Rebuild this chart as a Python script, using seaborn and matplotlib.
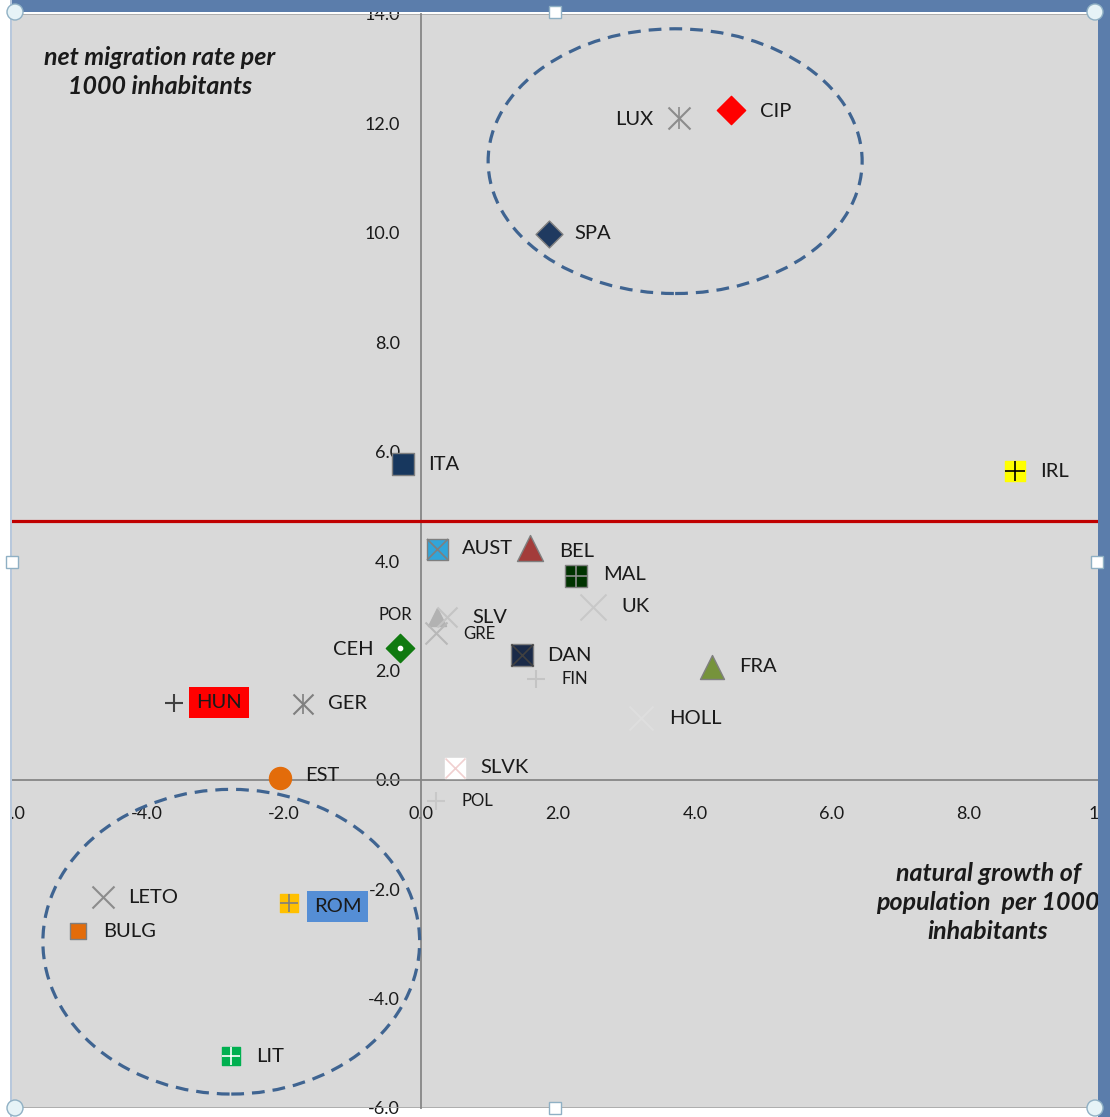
import numpy as np
import pandas as pd
import seaborn as sns
import matplotlib.pyplot as plt
from matplotlib.patches import Ellipse, Rectangle

# data
countries = ["CIP", "LUX", "SPA", "ITA", "IRL", "AUST", "BEL", "MAL", "UK", "POR",
             "SLV", "GRE", "CEH", "DAN", "FIN", "FRA", "HUN", "GER", "HOLL", "EST",
             "SLVK", "POL", "LETO", "BULG", "ROM", "LIT"]
natural_growth = [4.53, 3.77, 1.87, -0.26, 8.67, 0.23, 1.59, 2.26, 2.51, 0.23,
                  0.38, 0.22, -0.31, 1.47, 1.68, 4.25, -3.61, -1.72, 3.21, -2.06,
                  0.50, 0.22, -4.64, -5.01, -1.93, -2.77]
net_migration = [12.24, 12.10, 9.98, 5.77, 5.64, 4.22, 4.23, 3.72, 3.16, 2.97,
                 2.97, 2.68, 2.41, 2.28, 1.84, 2.06, 1.41, 1.39, 1.13, 0.04,
                 0.22, -0.38, -2.15, -2.77, -2.26, -5.05]
eu_migration_avg = 4.74
x_ticks = [-6, -4, -2, 0, 2, 4, 6, 8, 10]
y_ticks = [-6, -4, -2, 0, 2, 4, 6, 8, 10, 12, 14]

df = pd.DataFrame({"country": countries, "growth": natural_growth, "migration": net_migration})

# marker styles: marker, face, edge, size(px), overlay marker, overlay colour
styles = {
    "CIP": ("D", "#ff0000", "#ff0000", 20, None, None),
    "LUX": ("x", "#8c8c8c", "#8c8c8c", 22, "|", "#8c8c8c"),
    "SPA": ("D", "#1f3a60", "#7f7f7f", 19, None, None),
    "ITA": ("s", "#17375e", "#7f7f7f", 22, None, None),
    "IRL": ("s", "#ffff00", "#ffff00", 20, "+", "#000000"),
    "AUST": ("s", "#31a5d9", "#7f7f7f", 21, "x", "#7f7f7f"),
    "BEL": ("^", "#a33c3a", "#7f7f7f", 26, None, None),
    "MAL": ("s", "#003300", "#7f7f7f", 22, "+", "#8c8c8c"),
    "UK": ("x", "#c8c8c8", "#c8c8c8", 26, None, None),
    "POR": ("^", "#b2b2b2", "#b2b2b2", 18, None, None),
    "SLV": ("x", "#c4c4c4", "#c4c4c4", 20, None, None),
    "GRE": ("x", "#b8b8b8", "#b8b8b8", 22, None, None),
    "CEH": ("D", "#107a10", "#107a10", 20, ".", "#ffffff"),
    "DAN": ("s", "#1a2a48", "#7f7f7f", 22, "x", "#404040"),
    "FIN": ("+", "#c4c4c4", "#c4c4c4", 18, None, None),
    "FRA": ("^", "#76933c", "#7f7f7f", 24, None, None),
    "HUN": ("+", "#404040", "#404040", 18, None, None),
    "GER": ("x", "#7f7f7f", "#7f7f7f", 20, "|", "#7f7f7f"),
    "HOLL": ("x", "#dedede", "#dedede", 24, None, None),
    "EST": ("o", "#e36c0a", "#e36c0a", 22, None, None),
    "SLVK": ("s", "#ffffff", "#ffffff", 20, "x", "#f0d0d0"),
    "POL": ("+", "#c8c8c8", "#c8c8c8", 18, None, None),
    "LETO": ("x", "#8c8c8c", "#8c8c8c", 22, None, None),
    "BULG": ("s", "#e36c0a", "#7f7f7f", 16, None, None),
    "ROM": ("s", "#ffc000", "#ffc000", 18, "+", "#7f7f7f"),
    "LIT": ("s", "#00b050", "#00b050", 18, "+", "#ffffff"),
}
# label offsets in pixels (dx, dy, ha), default (25, 0, left)
label_offsets = {"CIP": (29, -1, "left"), "LUX": (-26, -2, "right"), "BEL": (29, -3, "left"),
                 "MAL": (27, 2, "left"), "UK": (28, 0, "left"), "POR": (-25, 2, "right"),
                 "GRE": (27, -1, "left"), "CEH": (-26, -2, "right"), "FRA": (27, 1, "left"),
                 "HOLL": (28, -1, "left"), "EST": (25, 2, "left"), "ROM": (25, -3, "left"),
                 "HUN": (22, 0, "left")}
small_labels = ["POR", "GRE", "FIN", "POL"]
label_boxes = {"HUN": "#ff0000", "ROM": "#558ed5"}

sns.set_style("white")
plt.rcParams["font.family"] = ["Lato", "DejaVu Sans"]

W, H = 1110, 1117
fig = plt.figure(figsize=(W / 100, H / 100), dpi=100)
fig.patch.set_facecolor("white")
ax = fig.add_axes([10 / W, 9 / H, 1096 / W, 1094 / H])
ax.set_facecolor("#d9d9d9")
ax.set_xlim(-6, 10)
ax.set_ylim(-6, 14)

for c in countries:
    row = df[df.country == c].iloc[0]
    m, face, edge, size, ov, ovc = styles[c]
    s = (size * 0.72) ** 2
    filled = m in ("D", "s", "^", "o")
    sns.scatterplot(x=[row.growth], y=[row.migration], marker=m, s=s, color=face,
                    edgecolor=edge, linewidth=1.0 if filled else 1.5, ax=ax,
                    zorder=4, legend=False)
    if ov is not None:
        osize = size * (0.4 if ov == "." else 1.0)
        sns.scatterplot(x=[row.growth], y=[row.migration], marker=ov, s=(osize * 0.72) ** 2,
                        color=ovc, edgecolor=ovc, linewidth=1.2, ax=ax, zorder=5, legend=False)
    dx, dy, ha = label_offsets.get(c, (25, 0, "left"))
    fs = 12 if c in small_labels else 14.5
    kw = {}
    if c in label_boxes:
        kw["bbox"] = dict(boxstyle="square,pad=0.35", fc=label_boxes[c], ec="none")
    ax.annotate(c, (row.growth, row.migration), xytext=(dx, dy), textcoords="offset pixels",
                ha=ha, va="center", fontsize=fs, color="#1a1a1a", zorder=6, **kw)

# average migration line
ax.axhline(eu_migration_avg, color="#c00000", lw=2.3, zorder=3)

# dashed ellipses around the groups
ax.add_patch(Ellipse((3.71, 11.31), 5.46, 4.84, fill=False, ec="#3f6491", lw=2.3,
                     ls=(0, (4, 2.5)), zorder=2))
ax.add_patch(Ellipse((-2.77, -2.96), 5.5, 5.57, fill=False, ec="#3f6491", lw=2.3,
                     ls=(0, (4, 2.5)), zorder=2))

# axes crossing at origin
for side in ["top", "right"]:
    ax.spines[side].set_visible(False)
for side in ["left", "bottom"]:
    ax.spines[side].set_position(("data", 0))
    ax.spines[side].set_color("#868686")
    ax.spines[side].set_linewidth(1.3)
    ax.spines[side].set_zorder(1)
ax.set_xticks(x_ticks)
ax.set_yticks(y_ticks)
ax.set_xticklabels([f"{v:.1f}" for v in x_ticks])
ax.set_yticklabels([f"{v:.1f}" for v in y_ticks])
ax.tick_params(axis="x", direction="out", length=5, width=1, color="#868686",
               pad=14, labelsize=13, labelcolor="#1a1a1a")
ax.tick_params(axis="y", direction="out", length=5, width=1, color="#868686",
               pad=10, labelsize=13, labelcolor="#1a1a1a")
ax.set_xlabel("")
ax.set_ylabel("")
ax.add_patch(Rectangle((0, 0), 1, 1, transform=ax.transAxes, fill=False,
                       ec="#a6a6a6", lw=1.2, zorder=1))

ax.text(-3.81, 12.94, "net migration rate per\n1000 inhabitants", ha="center", va="center",
        fontsize=18, fontweight="bold", fontstyle="italic", color="#1a1a1a", linespacing=1.3)
ax.text(8.28, -2.24, "natural growth of\npopulation  per 1000\ninhabitants", ha="center",
        va="center", fontsize=18, fontweight="bold", fontstyle="italic", color="#1a1a1a",
        linespacing=1.3)

# chart selection frame
def px(x, y):
    return x / W, 1 - y / H

fig.add_artist(Rectangle(px(0, 12), 1, 12 / H, transform=fig.transFigure,
                         fc="#5b7dab", ec="none", zorder=10))
fig.add_artist(Rectangle(px(1098, H), 12 / W, 1, transform=fig.transFigure,
                         fc="#5b7dab", ec="none", zorder=10))
fig.add_artist(Rectangle(px(0, H), 10 / W, 1, transform=fig.transFigure,
                         fc="white", ec="none", zorder=10))
fig.add_artist(Rectangle(px(10, H), 2 / W, 1, transform=fig.transFigure,
                         fc="#b8c8dc", ec="none", zorder=10))
for hx, hy in [(15, 12), (1095, 12), (15, 1108), (1095, 1108)]:
    cx, cy = px(hx, hy)
    fig.add_artist(Ellipse((cx, cy), 16 / W, 16 / H, transform=fig.transFigure,
                           fc="#e6f3f7", ec="#8fb0c4", lw=1, zorder=11))
for hx, hy in [(555, 12), (12, 562), (1097, 562), (555, 1108)]:
    cx, cy = px(hx - 6, hy + 6)
    fig.add_artist(Rectangle((cx, cy), 12 / W, 12 / H, transform=fig.transFigure,
                             fc="white", ec="#8fb0c4", lw=1, zorder=11))

fig.savefig("out.png", dpi=100)
